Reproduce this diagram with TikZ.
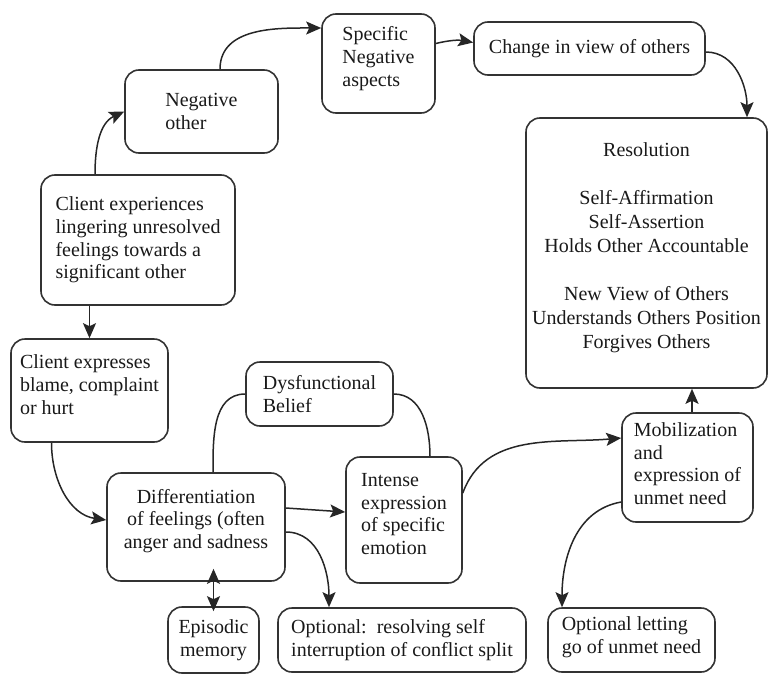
\documentclass[tikz,border=0pt]{standalone}
\usepackage{fontspec}
\setmainfont{Liberation Serif}
\usetikzlibrary{arrows.meta}

\tikzset{
  box/.style={draw=black!80, line width=1.6pt, rounded corners=14pt, inner sep=0pt,
    align=left, text=black!90, font=\fontsize{20}{22.7}\selectfont},
  headtip/.tip={Stealth[length=15pt,width=13pt,inset=3pt]},
  arr/.style={line width=1.5pt, draw=black!85, -headtip},
  link/.style={line width=1.5pt, draw=black!85},
}

\begin{document}
\begin{tikzpicture}[x=1pt,y=-1pt]
  \useasboundingbox (0,0) rectangle (770,677);

  \node[box, minimum width=153pt, minimum height=83pt] (neg) at (201.5,111.5) {Negative\\other};
  \node[box, minimum width=113pt, minimum height=99pt] (spec) at (378.5,63.5) {Specific\\Negative\\aspects\\[-8.4pt]\mbox{}};
  \node[box, minimum width=231pt, minimum height=53pt] (change) at (589.5,48.5) {Change in view of others};
  \node[box, align=center, minimum width=241pt, minimum height=270pt,
    font=\fontsize{20}{24}\selectfont] (res) at (646.5,253)
    {Resolution\\[24pt]Self-Affirmation\\Self-Assertion\\Holds Other Accountable\\[24pt]New View of Others\\Understands Others Position\\Forgives Others\\[-8.4pt]\mbox{}};
  \node[box, minimum width=194pt, minimum height=130pt] (exp) at (138,240)
    {Client experiences\\lingering unresolved\\feelings towards a\\significant other};
  \node[box, minimum width=157pt, minimum height=103pt] (blame) at (89.5,390.5)
    {Client expresses\\blame, complaint\\or hurt\\[-10.7pt]\mbox{}};
  \node[box, minimum width=147pt, minimum height=64pt] (belief) at (319.5,394) {Dysfunctional\\Belief};
  \node[box, align=center, minimum width=178pt, minimum height=108pt] (diff) at (196,527)
    {Differentiation\\of feelings (often\\anger and sadness\\[-6.4pt]\mbox{}};
  \node[box, minimum width=116pt, minimum height=126pt] (intense) at (404,520)
    {Intense\\expression\\of specific\\emotion\\[-10.7pt]\mbox{}};
  \node[box, minimum width=131pt, minimum height=109pt] (mob) at (687.5,467.5)
    {Mobilization\\and\\expression of\\unmet need\\[-14.7pt]\mbox{}};
  \node[box, align=center, minimum width=91pt, minimum height=66pt] (epi) at (213.5,640) {Episodic\\memory};
  \node[box, minimum width=248pt, minimum height=64pt] (optself) at (402,640)
    {Optional:\ \ resolving self\\interruption of conflict split};
  \node[box, minimum width=167pt, minimum height=64pt] (optlet) at (631.5,640)
    {Optional letting\\go of unmet need\\[-12.4pt]\mbox{}};

  \draw[arr] ([xshift=-43pt]exp.north) to[out=90,in=205] (neg.west);
  \draw[arr] ([xshift=18.5pt]neg.north) to[out=90,in=180] ([yshift=35.5pt]spec.west);
  \draw[arr] ([yshift=20pt]spec.east) to[bend left=12] ([yshift=6pt]change.west);
  \draw[arr] ([yshift=-3.5pt]change.east) to[out=0,in=90] ([xshift=100.5pt]res.north);
  \draw[arr] (exp.south -| blame.north) -- (blame.north);
  \draw[arr] ([xshift=-38pt]blame.south) to[out=270,in=172] ([yshift=7pt]diff.west);
  \draw[link] ([xshift=17pt]diff.north) to[out=90,in=180] (belief.west);
  \draw[link] (belief.east) to[out=0,in=90] ([xshift=26pt]intense.north);
  \draw[arr] ([yshift=19pt]diff.east) -- ([yshift=8pt]intense.west);
  \draw[arr] ([yshift=-5pt]diff.east) to[out=0,in=90] ([xshift=-73pt]optself.north);
  \draw[arr, headtip-headtip] ([yshift=13pt]diff.south -| epi.north) -- ([yshift=-5pt]epi.north);
  \draw[arr] ([yshift=27pt]intense.east) to[out=70,in=185] ([yshift=29.5pt]mob.west);
  \draw[arr] ([yshift=-34.5pt]mob.west) to[out=190,in=90] ([xshift=-69.5pt]optlet.north);
  \draw[arr] ([xshift=4.5pt]mob.north) -- ([xshift=4.5pt]mob.north |- res.south);
\end{tikzpicture}
\end{document}
